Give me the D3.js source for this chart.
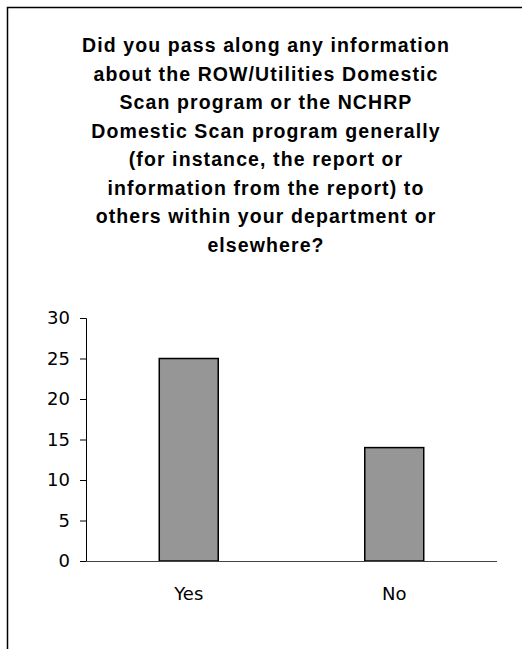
<!DOCTYPE html>
<meta charset="utf-8">
<style>
  body { margin: 0; background: #fff; }
  .title { font-family: "Liberation Sans", Arial, sans-serif; font-weight: bold; font-size: 19.5px; letter-spacing: 1.1px; fill: #000; }
  .tick text, .cat { font-family: "DejaVu Sans", sans-serif; font-size: 18px; fill: #000; }
  .bar { fill: #969696; stroke: #000; stroke-width: 1.5px; }
</style>
<body>
  <script src="https://d3js.org/d3.v7.min.js"></script>
  <script>
    // data
    var categories = ["Yes", "No"];
    var counts = [25, 14];
    var yTicks = [0, 5, 10, 15, 20, 25, 30];
    var titleLines = [
      "Did you pass along any information",
      "about the ROW/Utilities Domestic",
      "Scan program or the NCHRP",
      "Domestic Scan program generally",
      "(for instance, the report or",
      "information from the report) to",
      "others within your department or",
      "elsewhere?"
    ];

    var W = 522, H = 649;
    var margin = { top: 318, right: 25, bottom: 88, left: 86 },
      width = W - margin.left - margin.right,
      height = H - margin.top - margin.bottom;

    var svg = d3.select("body").append("svg")
      .attr("width", W)
      .attr("height", H);

    // outer frame (cut off at right and bottom)
    svg.append("path")
      .attr("d", "M7.5," + H + "V7.5H" + W)
      .attr("fill", "none")
      .attr("stroke", "#000")
      .attr("stroke-width", 1.5);

    // title
    svg.append("text")
      .attr("class", "title")
      .attr("text-anchor", "middle")
      .selectAll("tspan")
      .data(titleLines)
      .enter()
      .append("tspan")
      .attr("x", 266)
      .attr("y", function (d, i) { return 52 + i * 28.5; })
      .text(function (d) { return d; });

    var g = svg.append("g")
      .attr("transform", "translate(" + margin.left + "," + margin.top + ")");

    var x = d3.scaleBand().domain(categories).range([0, width])
      .paddingInner(0.713).paddingOuter(0.3565);
    var y = d3.scaleLinear().domain([0, 30]).range([height, 0]);

    // y axis
    var yAxis = g.append("g")
      .call(d3.axisLeft(y).tickValues(yTicks).tickSize(6).tickPadding(10));
    yAxis.select(".domain").attr("stroke", "#000");
    yAxis.selectAll(".tick line").attr("stroke", "#000");

    // bars
    g.selectAll(".bar")
      .data(counts)
      .enter()
      .append("rect")
      .attr("class", "bar")
      .attr("x", function (d, i) { return x(categories[i]); })
      .attr("y", function (d) { return y(d); })
      .attr("width", x.bandwidth())
      .attr("height", function (d) { return height - y(d); });

    // x axis baseline
    g.append("line")
      .attr("x1", 0).attr("x2", width)
      .attr("y1", height + 0.5).attr("y2", height + 0.5)
      .attr("stroke", "#444");

    // category labels
    g.selectAll(".cat")
      .data(categories)
      .enter()
      .append("text")
      .attr("class", "cat")
      .attr("text-anchor", "middle")
      .attr("x", function (d) { return x(d) + x.bandwidth() / 2; })
      .attr("y", height + 39)
      .text(function (d) { return d; });
  </script>
</body>
